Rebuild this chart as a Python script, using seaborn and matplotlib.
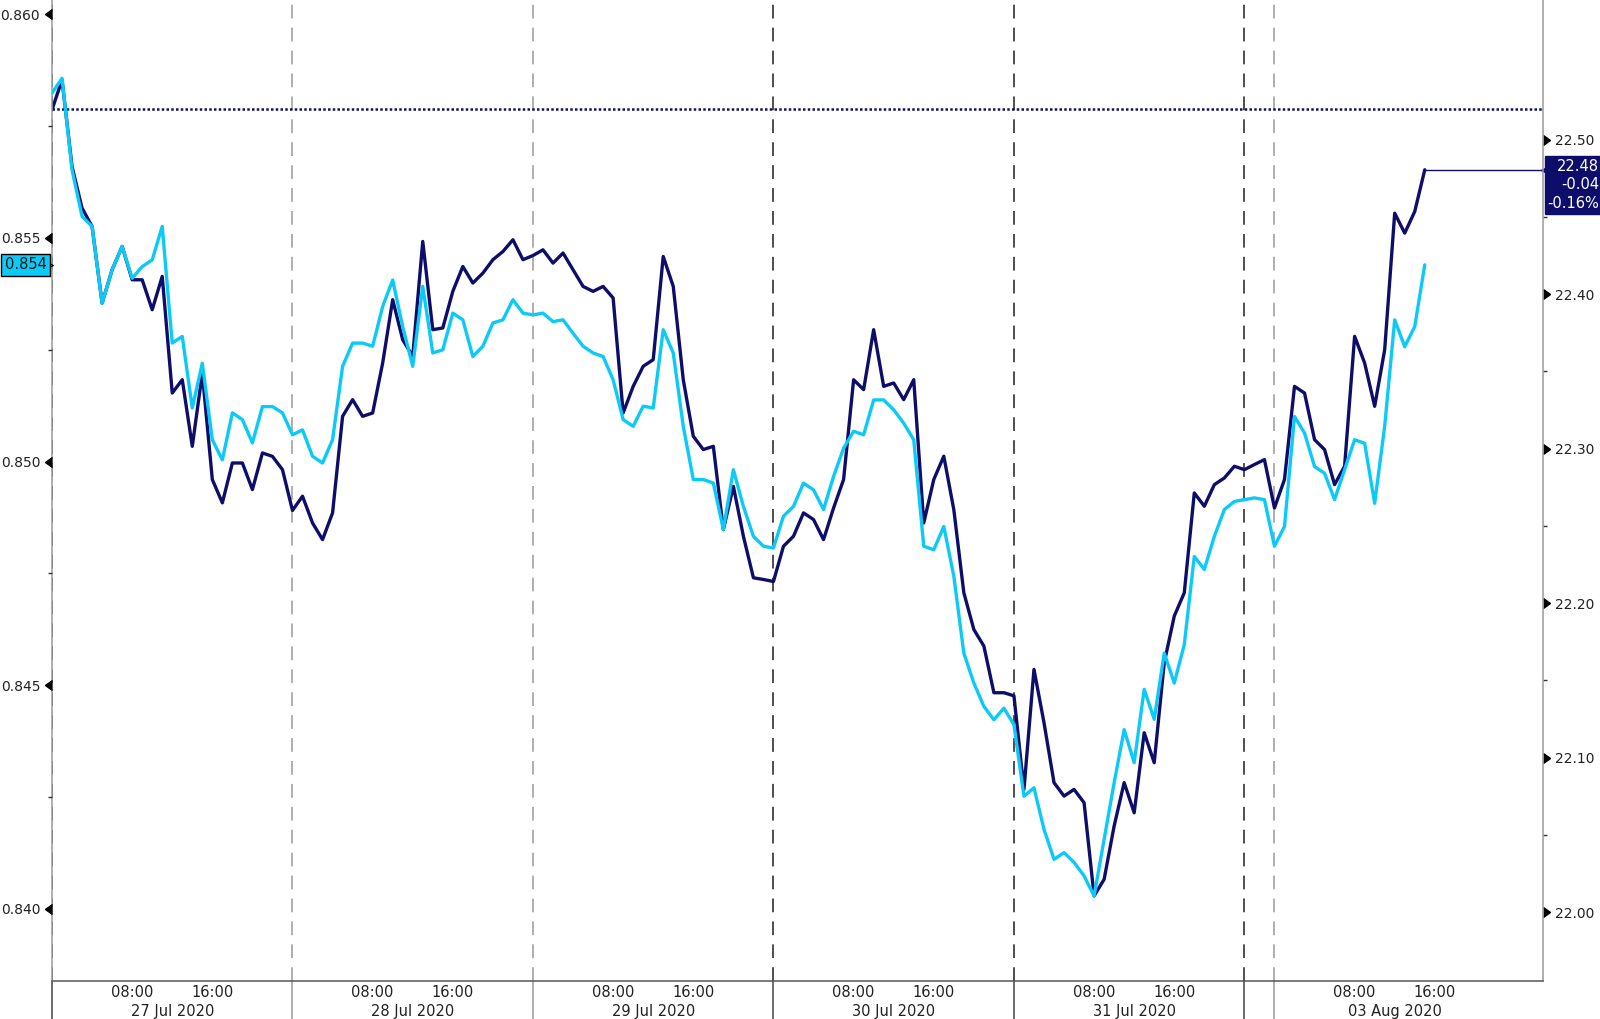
import numpy as np
import pandas as pd
import seaborn as sns
import matplotlib.pyplot as plt
from matplotlib.markers import CARETLEFTBASE, CARETRIGHTBASE
import matplotlib.transforms as mtransforms

# hourly closes, left axis (light blue) - 27 Jul .. 31 Jul 22:00, 02 Aug 21:00 .. 03 Aug 15:00
lhs_27jul = [0.85824, 0.85857, 0.85652, 0.85548, 0.85526, 0.85354, 0.85429, 0.85481, 0.85410, 0.85436, 0.85451, 0.85526,
             0.85265, 0.85280, 0.85120, 0.85220, 0.85049, 0.85004, 0.85109, 0.85094, 0.85042, 0.85123, 0.85123, 0.85109]
lhs_28jul = [0.85060, 0.85071, 0.85012, 0.84997, 0.85049, 0.85213, 0.85265, 0.85265, 0.85258, 0.85347, 0.85406, 0.85302,
             0.85213, 0.85392, 0.85243, 0.85250, 0.85332, 0.85317, 0.85235, 0.85258, 0.85310, 0.85317, 0.85362, 0.85332]
lhs_29jul = [0.85328, 0.85332, 0.85313, 0.85317, 0.85287, 0.85258, 0.85243, 0.85235, 0.85183, 0.85094, 0.85079, 0.85124,
             0.85120, 0.85295, 0.85243, 0.85079, 0.84960, 0.84960, 0.84952, 0.84848, 0.84982, 0.84900, 0.84833, 0.84811]
lhs_30jul = [0.84807, 0.84878, 0.84900, 0.84952, 0.84937, 0.84893, 0.84967, 0.85030, 0.85068, 0.85060, 0.85138, 0.85138,
             0.85116, 0.85086, 0.85049, 0.84811, 0.84803, 0.84855, 0.84744, 0.84572, 0.84505, 0.84453, 0.84423, 0.84449]
lhs_31jul = [0.84412, 0.84252, 0.84271, 0.84178, 0.84111, 0.84126, 0.84104, 0.84074, 0.84029, 0.84155, 0.84282, 0.84401,
             0.84327, 0.84491, 0.84424, 0.84572, 0.84505, 0.84591, 0.84788, 0.84759, 0.84833, 0.84893, 0.84911]
lhs_02aug = [0.84915, 0.84919, 0.84915]
lhs_03aug = [0.84811, 0.84855, 0.85101, 0.85064, 0.84989, 0.84974, 0.84915, 0.84982, 0.85049, 0.85041, 0.84907, 0.85079,
             0.85317, 0.85257, 0.85302, 0.85440]

# hourly closes, right axis (navy)
rhs_27jul = [22.5193, 22.5387, 22.4826, 22.4557, 22.4438, 22.3942, 22.4158, 22.4309, 22.4093, 22.4093, 22.3899, 22.4115,
             22.3360, 22.3446, 22.3015, 22.3489, 22.2800, 22.2649, 22.2907, 22.2907, 22.2735, 22.2972, 22.2950, 22.2864]
rhs_28jul = [22.2600, 22.2692, 22.2519, 22.2411, 22.2584, 22.3209, 22.3317, 22.3209, 22.3231, 22.3554, 22.3964, 22.3705,
             22.3597, 22.4341, 22.3770, 22.3781, 22.4018, 22.4179, 22.4072, 22.4136, 22.4223, 22.4276, 22.4352, 22.4223]
rhs_29jul = [22.4250, 22.4287, 22.4201, 22.4266, 22.4158, 22.4050, 22.4018, 22.4050, 22.3975, 22.3231, 22.3403, 22.3533,
             22.3576, 22.4244, 22.4050, 22.3446, 22.3080, 22.2994, 22.3015, 22.2476, 22.2756, 22.2433, 22.2164, 22.2153]
rhs_30jul = [22.2140, 22.2368, 22.2433, 22.2584, 22.2541, 22.2411, 22.2616, 22.2800, 22.3446, 22.3382, 22.3770, 22.3403,
             22.3425, 22.3317, 22.3446, 22.2519, 22.2800, 22.2951, 22.2605, 22.2067, 22.1829, 22.1722, 22.1420, 22.1420]
rhs_31jul = [22.1400, 22.0794, 22.1571, 22.1226, 22.0838, 22.0751, 22.0794, 22.0708, 22.0105, 22.0212, 22.0557, 22.0838,
             22.0643, 22.1161, 22.0967, 22.1614, 22.1916, 22.2067, 22.2713, 22.2627, 22.2767, 22.2810, 22.2886]
rhs_02aug = [22.2864, 22.2897, 22.2929]
rhs_03aug = [22.2616, 22.2800, 22.3403, 22.3360, 22.3058, 22.2994, 22.2767, 22.2886, 22.3727, 22.3554, 22.3274, 22.3640,
             22.4524, 22.4395, 22.4535, 22.4805]

rhs_prev_close = 22.52
rhs_change = "-0.04"
rhs_change_pct = "-0.16%"

day_dates = ["2020-07-27", "2020-07-28", "2020-07-29", "2020-07-30", "2020-07-31", "2020-08-03"]
day_labels = ["27 Jul 2020", "28 Jul 2020", "29 Jul 2020", "30 Jul 2020", "31 Jul 2020", "03 Aug 2020"]
lhs_ticks = [0.840, 0.845, 0.850, 0.855, 0.860]
rhs_ticks = [22.00, 22.10, 22.20, 22.30, 22.40, 22.50]

NAVY = "#0e0e6a"
LIGHT = "#0ccaf8"

t0 = pd.Timestamp("2020-07-27")
weekend_start = pd.Timestamp("2020-08-02")


def trading_hours(stamps):
    # hours since 27 Jul, with the weekend gap squeezed out
    stamps = pd.DatetimeIndex(stamps)
    h = np.asarray((stamps - t0) / pd.Timedelta(hours=1), dtype=float)
    return np.where(stamps >= weekend_start, h - 46, h)


stamps = pd.date_range("2020-07-27 00:00", "2020-07-31 22:00", freq="h").append(
    pd.date_range("2020-08-02 21:00", "2020-08-03 15:00", freq="h"))
df = pd.DataFrame({
    "x": trading_hours(stamps),
    "lhs": lhs_27jul + lhs_28jul + lhs_29jul + lhs_30jul + lhs_31jul + lhs_02aug + lhs_03aug,
    "rhs": rhs_27jul + rhs_28jul + rhs_29jul + rhs_30jul + rhs_31jul + rhs_02aug + rhs_03aug,
})

sns.set_style("white")
plt.rcParams["font.family"] = ["DejaVu Sans"]

fig = plt.figure(figsize=(16, 10.19), dpi=100)
ax = fig.add_axes([52 / 1600, 38 / 1019, 1491 / 1600, 981 / 1019])
ax2 = ax.twinx()
ax.yaxis.tick_right()
ax2.yaxis.tick_left()

x_max = trading_hours(["2020-08-04 02:48"])[0]
ax.set_xlim(0, x_max)
ax.set_ylim(21.9554, 22.5904)
ax2.set_ylim(0.83839, 0.86032)

# day separators
bounds = trading_hours(["2020-07-27", "2020-07-28", "2020-07-29", "2020-07-30", "2020-07-31",
                        "2020-07-31 23:00", "2020-08-03"])
bound_cols = ["#1e1e1e", "#9a9a9a", "#9a9a9a", "#1e1e1e", "#1e1e1e", "#1e1e1e", "#9a9a9a"]
xtr = ax.get_xaxis_transform()
for b, c in zip(bounds, bound_cols):
    ax.axvline(b, color=c, lw=1.1, ls=(0, (9, 6)), zorder=1)
    ax.plot([b, b], [0, -0.045], color="#444444" if c != "#9a9a9a" else "#9a9a9a", lw=1.1,
            transform=xtr, clip_on=False)

ax.axhline(rhs_prev_close, color=NAVY, lw=1.8, ls=(0, (1, 0.9)), zorder=2)

sns.lineplot(data=df, x="x", y="rhs", ax=ax, color=NAVY, lw=2.4, legend=False, estimator=None)
sns.lineplot(data=df, x="x", y="lhs", ax=ax2, color=LIGHT, lw=2.4, legend=False, estimator=None)

last_x = df["x"].iloc[-1]
last_r = df["rhs"].iloc[-1]
last_l = df["lhs"].iloc[-1]
ax.hlines(last_r, last_x, x_max, color=NAVY, lw=1)

# x ticks
major_pos, major_lab, minor_pos = [], [], []
for d in day_dates:
    dt = pd.Timestamp(d)
    p = trading_hours([dt + pd.Timedelta(hours=8), dt + pd.Timedelta(hours=16)])
    major_pos += list(p)
    major_lab += ["08:00", "16:00"]
    minor_pos += list(trading_hours([dt + pd.Timedelta(hours=k) for k in (4, 12, 20)]))
minor_pos += list(trading_hours(["2020-08-04 00:00"]))
ax.set_xticks(major_pos, major_lab)
ax.set_xticks(minor_pos, minor=True)
ax.tick_params(axis="x", which="major", length=0, pad=3, labelsize=10.5, labelcolor="#222222")
ax.tick_params(axis="x", which="minor", length=4, width=1, color="#444444", direction="out")
for d, lab in zip(day_dates, day_labels):
    xc = trading_hours([pd.Timestamp(d) + pd.Timedelta(hours=12)])[0]
    ax.text(xc, -0.031, lab, transform=xtr, ha="center", va="center", fontsize=10.5, color="#222222")
ax.set_xlabel("")

# y ticks
ax.set_yticks(rhs_ticks, [f"{v:.2f}" for v in rhs_ticks])
ax.set_yticks(np.arange(22.05, 22.5, 0.1), minor=True)
ax2.set_yticks(lhs_ticks, [f"{v:.3f}" for v in lhs_ticks])
ax2.set_yticks(np.arange(0.8425, 0.86, 0.005), minor=True)
ax.set_ylabel("")
ax2.set_ylabel("")
for a in (ax, ax2):
    a.tick_params(axis="y", which="major", length=7, width=1, color="black", pad=1.5,
                  labelsize=10, labelcolor="#222222")
    a.tick_params(axis="y", which="minor", length=3, width=1, color="#333333")
for t in ax.yaxis.get_major_ticks():
    t.tick2line.set_marker(CARETRIGHTBASE)
for t in ax2.yaxis.get_major_ticks():
    t.tick1line.set_marker(CARETLEFTBASE)

for s in ax2.spines.values():
    s.set_visible(False)
ax.spines["top"].set_visible(False)
ax.spines["left"].set_color("#9a9a9a")
ax.spines["right"].set_color("#9a9a9a")
ax.spines["bottom"].set_color("#555555")
for s in ("left", "right", "bottom"):
    ax.spines[s].set_linewidth(1.1)

# last value tags
rtr = mtransforms.blended_transform_factory(fig.transFigure, ax.transData)
ax.annotate(f"{last_r:.2f}\n{rhs_change}\n{rhs_change_pct}", xy=(0.9995, last_r), xycoords=rtr,
            xytext=(0, 8), textcoords="offset points", ha="right", va="top", fontsize=10.5,
            color="white", linespacing=1.3, multialignment="right", annotation_clip=False,
            bbox=dict(boxstyle="square,pad=0.2", fc=NAVY, ec=NAVY))
ax.plot([1.0 + 4 / 1491], [last_r], marker="<", ms=9, color=NAVY,
        transform=mtransforms.blended_transform_factory(ax.transAxes, ax.transData), clip_on=False)

ltr = mtransforms.blended_transform_factory(fig.transFigure, ax2.transData)
ax2.annotate(f"{last_l:.3f}", xy=(0.003, last_l), xycoords=ltr, ha="left", va="center", fontsize=10.5,
             color="#111111", annotation_clip=False,
             bbox=dict(boxstyle="square,pad=0.25", fc=LIGHT, ec="black", lw=1))
ax2.plot([-5 / 1491], [last_l], marker=">", ms=9, color=LIGHT, mec="black", mew=0.8,
         transform=mtransforms.blended_transform_factory(ax2.transAxes, ax2.transData), clip_on=False)

fig.savefig("out.png", dpi=100, facecolor="white")
